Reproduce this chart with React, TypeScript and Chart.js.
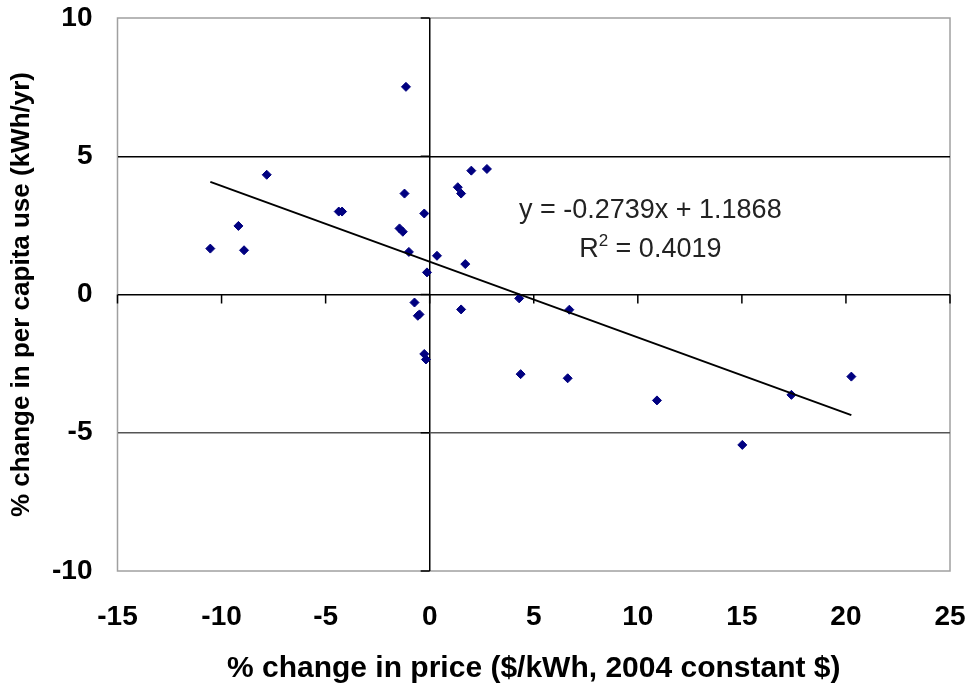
import React, { useEffect, useRef } from "react";
import { Chart, registerables } from "chart.js";

Chart.register(...registerables);

// % change in price ($/kWh, 2004 constant $)
const priceChange = [
  -1.14, -7.83, 2.0, 2.75, -1.21, 1.35, 1.51, -4.37, -4.21, -0.26, -9.19,
  -1.45, -1.29, -10.54, -8.92, -1.0, 0.35, 1.71, -0.13, 4.3, -0.73, 1.51,
  -0.49, -0.57, -0.26, -0.18, 4.37, 6.71, 6.63, 10.92, 17.38, 20.26, 15.02,
];
// % change in per capita use (kWh/yr)
const useChange = [
  7.51, 4.33, 4.48, 4.54, 3.65, 3.88, 3.65, 3.0, 3.0, 2.93, 2.48,
  2.39, 2.27, 1.66, 1.6, 1.54, 1.4, 1.1, 0.8, -0.14, -0.29, -0.54,
  -0.72, -0.77, -2.15, -2.35, -2.88, -0.55, -3.03, -3.83, -3.63, -2.97, -5.44,
];

const trendSlope = -0.2739;
const trendIntercept = 1.1868;
const rSquared = "0.4019";

const xTicks = [-15, -10, -5, 0, 5, 10, 15, 20, 25];
const yTicks = [-10, -5, 0, 5, 10];

const xTitle = "% change in price ($/kWh, 2004 constant $)";
const yTitle = "% change in per capita use (kWh/yr)";

const FONT = "'Liberation Sans', Arial, sans-serif";

export default function App() {
  const ref = useRef<HTMLCanvasElement | null>(null);

  useEffect(() => {
    if (!ref.current) return;
    const pts = priceChange.map((x, i) => ({ x, y: useChange[i] }));
    const xMin = Math.min(...priceChange);
    const xMax = Math.max(...priceChange);
    const trend = [
      { x: xMin, y: trendSlope * xMin + trendIntercept },
      { x: xMax, y: trendSlope * xMax + trendIntercept },
    ];

    const framePlugin = {
      id: "frame",
      beforeDraw(chart: any) {
        const { ctx, chartArea: a } = chart;
        ctx.save();
        ctx.fillStyle = "#ffffff";
        ctx.fillRect(0, 0, chart.width, chart.height);
        ctx.strokeStyle = "#a0a0a0";
        ctx.lineWidth = 1.5;
        ctx.strokeRect(a.left, a.top, a.right - a.left, a.bottom - a.top);
        ctx.restore();
      },
      beforeDatasetsDraw(chart: any) {
        const { ctx } = chart;
        const xs = chart.scales.x;
        const ys = chart.scales.y;
        const x0 = xs.getPixelForValue(0);
        const y0 = ys.getPixelForValue(0);
        ctx.save();
        ctx.strokeStyle = "#000";
        ctx.lineWidth = 1.5;
        ctx.beginPath();
        xTicks.forEach((v) => {
          const px = xs.getPixelForValue(v);
          ctx.moveTo(px, y0);
          ctx.lineTo(px, y0 + 9);
        });
        yTicks.forEach((v) => {
          const py = ys.getPixelForValue(v);
          ctx.moveTo(x0 - 9, py);
          ctx.lineTo(x0, py);
        });
        ctx.stroke();
        ctx.restore();
      },
      afterDraw(chart: any) {
        const { ctx } = chart;
        const xs = chart.scales.x;
        const ys = chart.scales.y;
        const cx = xs.getPixelForValue(10.6);
        const eqY = ys.getPixelForValue(3.04);
        const r2Y = ys.getPixelForValue(1.61);
        ctx.save();
        ctx.fillStyle = "#222";
        ctx.textBaseline = "middle";
        ctx.font = `27px ${FONT}`;
        ctx.textAlign = "center";
        const eq = `y = ${trendSlope}x + ${trendIntercept}`;
        ctx.fillText(eq, cx, eqY);
        // R² line
        ctx.textAlign = "left";
        const big = `27px ${FONT}`;
        const small = `17px ${FONT}`;
        ctx.font = big;
        const wR = ctx.measureText("R").width;
        const rest = ` = ${rSquared}`;
        const wRest = ctx.measureText(rest).width;
        ctx.font = small;
        const w2 = ctx.measureText("2").width;
        const total = wR + w2 + wRest;
        let sx = cx - total / 2;
        ctx.font = big;
        ctx.fillText("R", sx, r2Y);
        sx += wR;
        ctx.font = small;
        ctx.fillText("2", sx, r2Y - 9);
        sx += w2;
        ctx.font = big;
        ctx.fillText(rest, sx, r2Y);
        ctx.restore();
      },
    };

    const chart = new Chart(ref.current, {
      type: "scatter",
      data: {
        datasets: [
          {
            label: "Linear trend",
            data: trend,
            showLine: true,
            borderColor: "#000",
            borderWidth: 2,
            pointRadius: 0,
            fill: false,
          },
          {
            label: "Data",
            data: pts,
            pointStyle: "rectRot",
            pointRadius: 4.5,
            backgroundColor: "#000080",
            borderColor: "#000080",
            borderWidth: 1,
          },
        ],
      },
      options: {
        responsive: false,
        animation: false,
        layout: { padding: { top: 18, right: 19, left: 0, bottom: 0 } },
        plugins: {
          legend: { display: false },
          tooltip: { enabled: false },
        },
        scales: {
          x: {
            type: "linear",
            min: -15,
            max: 25,
            afterBuildTicks: (s: any) => {
              s.ticks = xTicks.map((v) => ({ value: v }));
            },
            afterFit: (s: any) => {
              s.height = 117;
              s.paddingLeft = 0;
              s.paddingRight = 0;
            },
            ticks: {
              color: "#000",
              font: { family: FONT, size: 28, weight: "bold" },
              padding: 29,
              maxRotation: 0,
              autoSkip: false,
            },
            grid: {
              drawTicks: false,
              lineWidth: 1.5,
              color: (c: any) => (c.tick && c.tick.value === 0 ? "#000" : "rgba(0,0,0,0)"),
            },
            border: { display: false },
            title: {
              display: true,
              text: xTitle,
              color: "#000",
              font: { family: FONT, size: 30, weight: "bold" },
              padding: { top: 0, bottom: 1 },
            },
          },
          y: {
            type: "linear",
            min: -10,
            max: 10,
            afterBuildTicks: (s: any) => {
              s.ticks = yTicks.map((v) => ({ value: v }));
            },
            afterFit: (s: any) => {
              s.width = 117.5;
              s.paddingTop = 0;
              s.paddingBottom = 0;
            },
            ticks: {
              color: "#000",
              font: { family: FONT, size: 28, weight: "bold" },
              padding: 25,
              autoSkip: false,
            },
            grid: {
              drawTicks: false,
              lineWidth: 1.5,
              color: (c: any) => {
                const v = c.tick ? c.tick.value : null;
                if (v === 5 || v === 0) return "#000";
                if (v === -5) return "#555";
                return "rgba(0,0,0,0)";
              },
            },
            border: { display: false },
            title: {
              display: true,
              text: yTitle,
              color: "#000",
              font: { family: FONT, size: 26, weight: "bold" },
              padding: { top: 6, bottom: 0 },
            },
          },
        },
      },
      plugins: [framePlugin],
    } as any);

    return () => chart.destroy();
  }, []);

  return (
    <div style={{ position: "absolute", left: 0, top: 0, width: 969, height: 688, background: "#fff" }}>
      <canvas ref={ref} width={969} height={688} />
    </div>
  );
}
